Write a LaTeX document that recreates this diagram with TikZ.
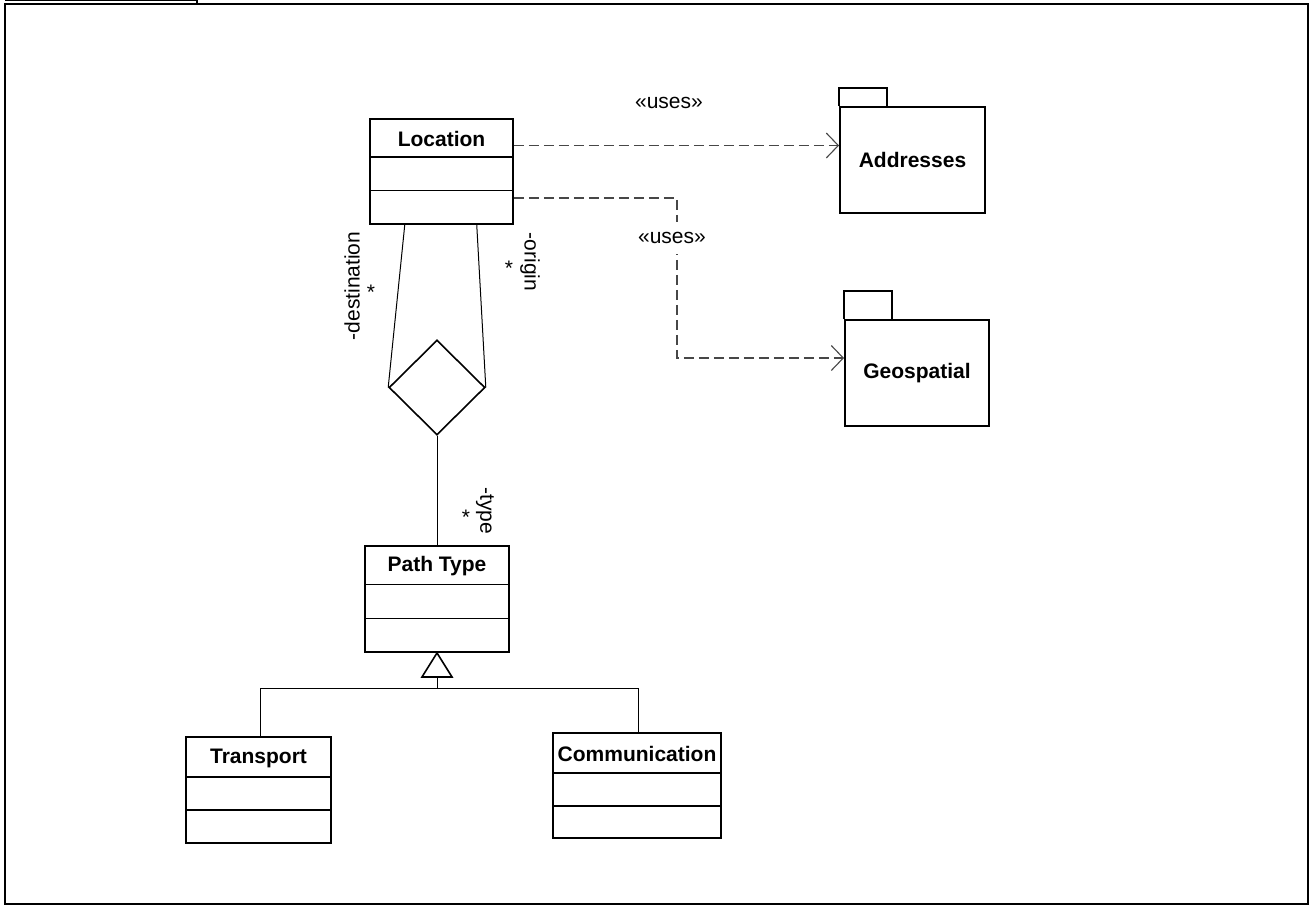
\documentclass[tikz,border=0pt]{standalone}
\usepackage{fontspec}
\setmainfont{Liberation Sans}
\usetikzlibrary{arrows.meta,calc,shapes.geometric,fit}
\begin{document}
\begin{tikzpicture}[x=1pt,y=-1pt,
  box/.style={draw, line width=1.9pt, rectangle, inner sep=0pt},
  divline/.style={line width=1.9pt},
  ttl/.style={font=\fontsize{21}{24}\selectfont\bfseries, inner sep=0pt},
  lbl/.style={font=\fontsize{21}{24}\selectfont, inner sep=1pt},
  conn/.style={line width=1pt},
  dep/.style={line width=1.2pt, draw=black!72, dash pattern=on 10pt off 5pt,
    -{Straight Barb[length=12pt,width=25pt,line width=1.1pt]}},
  dia/.style={draw, diamond, line width=1.6pt, inner sep=0pt, minimum width=96pt, minimum height=95pt, aspect=1},
]
\useasboundingbox (0,0) rectangle (1310,906);
% frame
\draw[line width=2.2pt] (5,4) rectangle (1308,904);
\draw[line width=1.2pt] (5,0.6) -- (197,0.6) -- (197,4);

\newcommand\umlcls[8]{%
  \node[box, fit={(#2,#3) (#4,#5)}] (#1) {};
  \draw[divline] (#1.west |- 0,#6) -- (#1.east |- 0,#6);
  \draw[divline] (#1.west |- 0,#7) -- (#1.east |- 0,#7);
  \node[ttl] (#1-t) at ({(#2+#4)/2},{(#3+#6)/2+1}) {#8};
}
\newcommand\umlpkg[7]{%
  \node[box, fit={(#2,#3) (#4,#5)}] (#1) {};
  \draw[divline] (#1.north west) -- ++(0,-#6) -- ++(48,0) -- ++(0,#6);
  \node[ttl] (#1-t) at (#1.center) {#7};
}

\umlcls{loc}{370}{119}{513}{224}{157}{190.5}{Location}
\umlcls{pt}{365}{546}{509}{652}{584.5}{618.5}{Path Type}
\umlcls{trans}{186}{737}{331}{843}{777}{810}{Transport}
\umlcls{comm}{553}{733}{721}{838}{773}{806}{Communication}

\umlpkg{addr}{840}{107}{985}{213}{18}{Addresses}
\umlpkg{geo}{845}{320}{989}{426}{28}{Geospatial}

% aggregation diamond
\node[dia] (dm) at (437,387.5) {};
\draw[conn] ($(loc.south west)+(35.7,0)$) -- (dm.west);
\draw[conn] ($(loc.south west)+(107.7,0)$) -- (dm.east);
\draw[conn] (dm.south) -- (pt.north -| dm.south);

\node[lbl, rotate=90] (ldest) at (352,286) {-destination};
\node[lbl] (sdest) at (371,292) {*};
\node[lbl, rotate=-90] (lorig) at (530,262) {-origin};
\node[lbl] (sorig) at (509,268) {*};
\node[lbl, rotate=-90] (ltype) at (485,511) {-type};
\node[lbl] (stype) at (466,517) {*};

% generalization
\coordinate (tb) at ($(pt.south)+(0,24)$);
\draw[line width=1.6pt, fill=white] (pt.south) -- ($(tb)+(-15,0)$) -- ($(tb)+(15,0)$) -- cycle;
\coordinate (gj) at ($(tb)+(0,12)$);
\draw[conn] (tb) -- (gj);
\draw[conn] (gj) -| ($(trans.north)+(1.5,0)$);
\draw[conn] (gj) -| ($(comm.north)+(1,0)$);

% dependencies
\coordinate (d1) at (840,145.5);
\draw[dep] (loc.east |- d1) -- (addr.west |- d1);
\node[lbl] (u1) at (669,103) {«uses»};
\coordinate (b1) at (677,198);
\coordinate (b2) at (677,358);
\draw[dep] (loc.east |- b1) -- (b1) -- (b2) -- (geo.west |- b2);
\node[lbl, fill=white, inner ysep=10pt] (u2) at (672,238) {«uses»};
\end{tikzpicture}
\end{document}
